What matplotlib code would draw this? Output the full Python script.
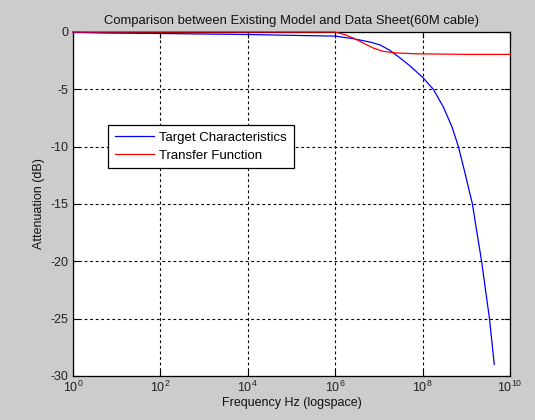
import numpy as np
import matplotlib
matplotlib.use("Agg")
import matplotlib.pyplot as plt
from matplotlib.ticker import FixedLocator, NullLocator, FuncFormatter

plt.rcParams['font.family'] = ['Liberation Sans', 'DejaVu Sans']
plt.rcParams['mathtext.default'] = 'regular'
plt.rcParams['axes.unicode_minus'] = False

# Data (log10 of frequency, attenuation in dB)
blue_logf = [0.0, 0.77, 2.0, 4.0, 6.0, 6.41, 6.80, 7.03, 7.25, 7.48, 7.71, 8.0, 8.245,
             8.47, 8.67, 8.82, 8.97, 9.08, 9.14, 9.24, 9.35, 9.44, 9.53, 9.64]
blue_db = [-0.02, -0.09, -0.13, -0.22, -0.36, -0.58, -0.88, -1.13, -1.6, -2.25, -2.95,
           -3.95, -5.0, -6.5, -8.25, -10.0, -12.3, -14.06, -15.0, -17.4, -20.0,
           -22.5, -25.0, -29.0]

red_logf = [0.0, 6.0, 6.22, 6.41, 6.64, 6.87, 7.10, 7.41, 7.86, 8.5, 9.0, 10.0]
red_db = [0.0, 0.0, -0.23, -0.52, -0.96, -1.40, -1.69, -1.83, -1.9, -1.93, -1.95, -1.95]

x_tick_exps = [0, 2, 4, 6, 8, 10]
y_ticks = [0, -5, -10, -15, -20, -25, -30]

title = "Comparison between Existing Model and Data Sheet(60M cable)"
xlabel = "Frequency Hz (logspace)"
ylabel = "Attenuation (dB)"
series_names = ["Target Characteristics", "Transfer Function"]

fig = plt.figure(figsize=(5.35, 4.2), dpi=100, facecolor='#cccccc')
ax = fig.add_axes([73/535, 1-376/420, 437/535, 344/420])
ax.set_facecolor('white')

bf = [10**v for v in blue_logf]
rf = [10**v for v in red_logf]
ax.semilogx(bf, blue_db, color='#0000ff', lw=0.9, label=series_names[0], zorder=3, clip_on=False)
ax.semilogx(rf, red_db, color='#ff0000', lw=0.9, label=series_names[1], zorder=3, clip_on=False)

ax.set_xlim(1, 1e10)
ax.set_ylim(-30, 0)
ax.xaxis.set_major_locator(FixedLocator([10**e for e in x_tick_exps]))
ax.xaxis.set_minor_locator(NullLocator())
ax.xaxis.set_major_formatter(FuncFormatter(lambda v, p: r'$10^{%d}$' % round(np.log10(v))))
ax.set_yticks(y_ticks)
ax.set_yticklabels([str(t) for t in y_ticks])

ax.tick_params(direction='in', length=4, width=0.8, top=True, right=True,
               labelsize=9, colors='black', labelcolor='#222222', pad=3)
ax.grid(True, color='black', linestyle=(0, (2.5, 2.5)), linewidth=0.8)
for s in ax.spines.values():
    s.set_linewidth(0.9)
    s.set_color('black')

ax.set_title(title, fontsize=9.4, pad=6, color='#111111')
ax.set_xlabel(xlabel, fontsize=9, labelpad=1, color='#111111')
ax.set_ylabel(ylabel, fontsize=9, labelpad=4, color='#111111')

leg = ax.legend(loc='upper left', bbox_to_anchor=(0.080, 0.73), borderaxespad=0,
                fontsize=9.5, fancybox=False, edgecolor='black', framealpha=1,
                handlelength=3.0, handletextpad=0.4, borderpad=0.5, labelspacing=0.45)
leg.get_frame().set_linewidth(0.9)

fig.savefig('out.png', dpi=100, facecolor=fig.get_facecolor())
